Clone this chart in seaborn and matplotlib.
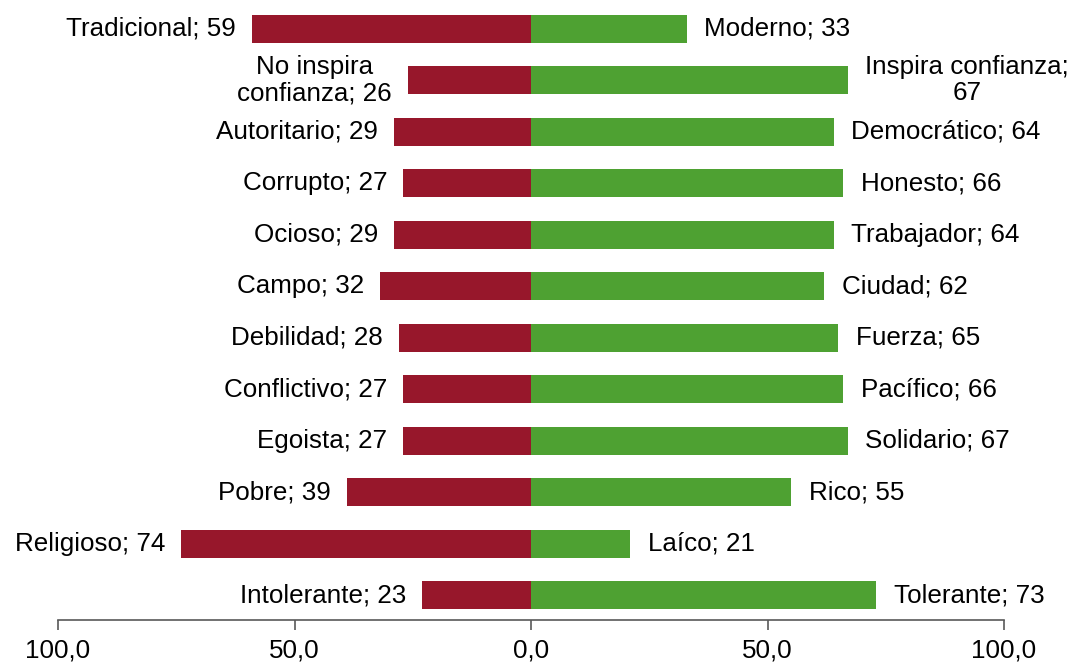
import pandas as pd
import seaborn as sns
import matplotlib.pyplot as plt

# left / right attribute pairs, top to bottom
left_labels = ["Tradicional", "No inspira\nconfianza", "Autoritario", "Corrupto", "Ocioso", "Campo",
               "Debilidad", "Conflictivo", "Egoista", "Pobre", "Religioso", "Intolerante"]
left_values = [59, 26, 29, 27, 29, 32, 28, 27, 27, 39, 74, 23]
right_labels = ["Moderno", "Inspira confianza;\n", "Democrático", "Honesto", "Trabajador", "Ciudad",
                "Fuerza", "Pacífico", "Solidario", "Rico", "Laíco", "Tolerante"]
right_values = [33, 67, 64, 66, 64, 62, 65, 66, 67, 55, 21, 73]
tick_vals = [-100, -50, 0, 50, 100]
tick_labels = ["100,0", "50,0", "0,0", "50,0", "100,0"]

red = "#97172B"
green = "#4EA132"

rows = [str(i) for i in range(len(left_values))]
df = pd.DataFrame({
    "row": rows * 2,
    "value": [-v for v in left_values] + right_values,
    "side": ["left"] * len(rows) + ["right"] * len(rows),
})

sns.set_style("white")
plt.rcParams["font.family"] = ["Liberation Sans", "DejaVu Sans"]

fig = plt.figure(figsize=(10.73, 6.64), dpi=100)
ax = fig.add_axes([58 / 1073, 1 - 620 / 664, (1004 - 58) / 1073, 617 / 664])

sns.barplot(data=df, y="row", x="value", hue="side", order=rows, dodge=False,
            palette={"left": red, "right": green}, width=0.55, orient="h",
            legend=False, ax=ax, saturation=1, edgecolor="none")

fs = 18.7
for i in range(len(rows)):
    lv = left_values[i]
    ltxt = f"{left_labels[i]}; {lv}"
    ax.annotate(ltxt, (-lv, i), xytext=(-11.5, 0), textcoords="offset points",
                ha="right", va="center", multialignment="center", fontsize=fs,
                color="black", linespacing=1.1)
    rv = right_values[i]
    if right_labels[i].endswith("\n"):
        rtxt = f"{right_labels[i]}{rv}"
    else:
        rtxt = f"{right_labels[i]}; {rv}"
    ax.annotate(rtxt, (rv, i), xytext=(12.5, 0), textcoords="offset points",
                ha="left", va="center", multialignment="center", fontsize=fs,
                color="black", linespacing=1.1)

ax.set_xlim(-100, 100)
ax.set_ylim(11.48, -0.5)
ax.set_xticks(tick_vals)
ax.set_xticklabels(tick_labels, fontsize=fs, color="black")
ax.set_yticks([])
ax.set_xlabel("")
ax.set_ylabel("")
for s in ["top", "left", "right"]:
    ax.spines[s].set_visible(False)
ax.spines["bottom"].set_color("#595959")
ax.spines["bottom"].set_linewidth(1.2)
ax.tick_params(axis="x", bottom=True, direction="out", length=7, width=1.2,
               color="#595959", pad=6)

fig.savefig("out.png", dpi=100)
